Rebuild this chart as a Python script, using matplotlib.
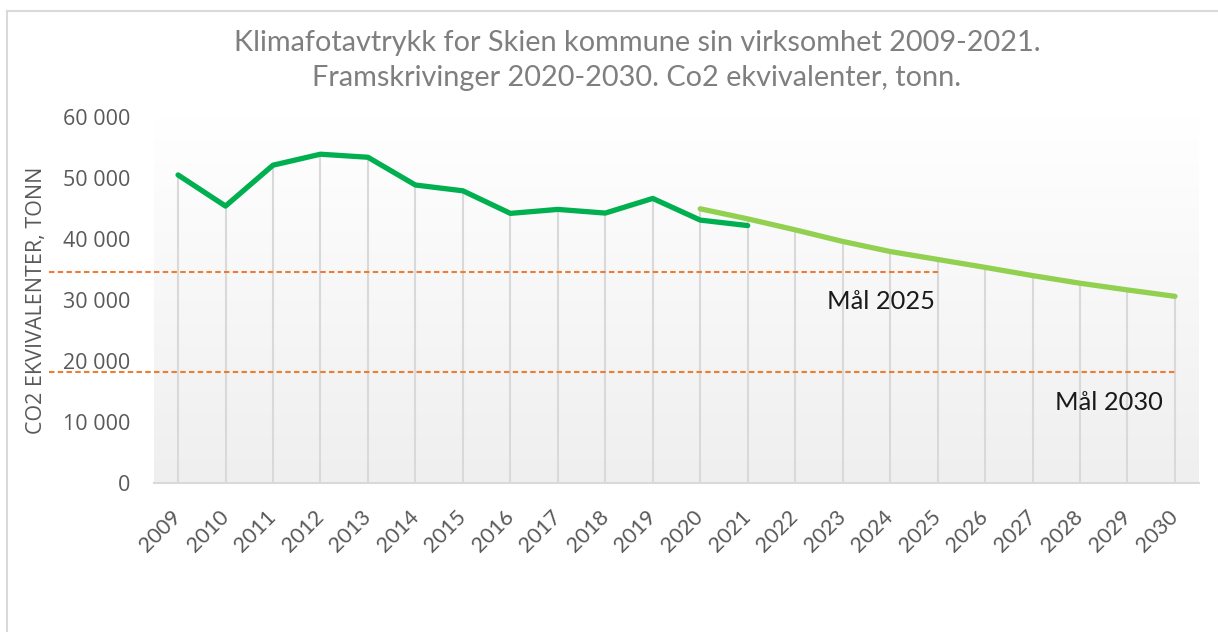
#!/usr/bin/env python3

import numpy as np
import matplotlib
matplotlib.use("Agg")
import matplotlib.pyplot as plt
from matplotlib.colors import LinearSegmentedColormap
from matplotlib.lines import Line2D

# data (tonn CO2-ekvivalenter)
years = [str(y) for y in range(2009, 2031)]
actual_years = list(range(2009, 2022))
actual = [50500, 45400, 52100, 53900, 53400, 48850, 47900, 44200,
          44850, 44250, 46650, 43100, 42200]
proj_years = list(range(2020, 2031))
projection = [44950, 43300, 41500, 39600, 37950, 36650, 35350, 34000,
              32750, 31650, 30600]
goal_2025 = 34650
goal_2030 = 18200
title_lines = ["Klimafotavtrykk for Skien kommune sin virksomhet 2009-2021.",
               "Framskrivinger 2020-2030. Co2 ekvivalenter, tonn."]

W, H = 1218, 632
fig = plt.figure(figsize=(W / 100, H / 100), dpi=100)
fig.patch.set_facecolor("white")

# plot area in pixel terms
left, right, bottom, top = 154.3, 1198.7, 483, 117
ax = fig.add_axes([left / W, 1 - bottom / H, (right - left) / W, (bottom - top) / H])
ax.set_facecolor("none")

xa = [years.index(str(y)) for y in actual_years]
xp = [years.index(str(y)) for y in proj_years]

ax.set_xlim(-0.5, len(years) - 0.5)
ax.set_ylim(0, 60000)

# gradient fill of the plot area
cmap = LinearSegmentedColormap.from_list("bg", ["#efefef", "#ffffff"])
ax.imshow(np.linspace(0, 1, 256).reshape(-1, 1), extent=[-0.5, len(years) - 0.5, 0, 60000],
          aspect="auto", origin="lower", cmap=cmap, zorder=0)

# drop lines from the highest point in each category
top_vals = {}
for x, v in zip(xa, actual):
    top_vals[x] = max(top_vals.get(x, 0), v)
for x, v in zip(xp, projection):
    top_vals[x] = max(top_vals.get(x, 0), v)
for x, v in top_vals.items():
    ax.plot([x, x], [0, v], color="#d9d9d9", lw=1.5, zorder=1)

# goal lines start left of the y tick labels
fig.canvas.draw()
x_start = ax.transData.inverted().transform((49, 0))[0]
ax.plot([x_start, years.index("2025")], [goal_2025, goal_2025], color="#ed7d31",
        lw=1.5, dashes=(2.6, 1.6), clip_on=False, zorder=2)
ax.plot([x_start, years.index("2030")], [goal_2030, goal_2030], color="#ed7d31",
        lw=1.5, dashes=(2.6, 1.6), clip_on=False, zorder=2)

ax.plot(xp, projection, color="#92d050", lw=3.8, solid_capstyle="round",
        solid_joinstyle="round", zorder=3)
ax.plot(xa, actual, color="#00b050", lw=3.8, solid_capstyle="round",
        solid_joinstyle="round", zorder=4)

ax.text(years.index("2025") - 0.06, goal_2025 - 4900, "Mål 2025", ha="right", va="center",
        family="Lato", fontsize=18.3, color="#1a1a1a")
ax.text(years.index("2030") - 0.25, goal_2030 - 5000, "Mål 2030", ha="right", va="center",
        family="Lato", fontsize=18.3, color="#1a1a1a")

for s in ["top", "right", "left"]:
    ax.spines[s].set_visible(False)
ax.spines["bottom"].set_color("#d9d9d9")
ax.spines["bottom"].set_linewidth(1.5)

ax.set_yticks(range(0, 60001, 10000))
ax.set_yticklabels([f"{v:,}".replace(",", " ") for v in range(0, 60001, 10000)],
                   family="Open Sans", fontsize=15.5, color="#595959")
ax.tick_params(axis="y", length=0, pad=17)

ax.set_xticks(range(len(years)))
ax.set_xticklabels(years, rotation=45, ha="right", va="center", rotation_mode="anchor",
                   family="Lato", fontsize=15.5, color="#595959")
ax.tick_params(axis="x", length=0, pad=22)

fig.text(37 / W, 1 - 300 / H, "CO2 EKVIVALENTER, TONN", rotation=90, ha="center",
         va="center", family="Open Sans", fontsize=15.5, color="#595959")

fig.text(637 / W, 1 - 43 / H, title_lines[0], ha="center", va="center", family="Lato",
         fontsize=20.8, color="#7f7f7f")
fig.text(637 / W, 1 - 78 / H, title_lines[1], ha="center", va="center", family="Lato",
         fontsize=20.8, color="#7f7f7f")

# chart frame (left and top edges visible)
fig.add_artist(Line2D([7 / W, 7 / W], [0, 1 - 11 / H], color="#d9d9d9", lw=1.5,
                      transform=fig.transFigure))
fig.add_artist(Line2D([7 / W, 1], [1 - 11 / H, 1 - 11 / H], color="#d9d9d9", lw=1.5,
                      transform=fig.transFigure))

fig.savefig("out.png", dpi=100)
